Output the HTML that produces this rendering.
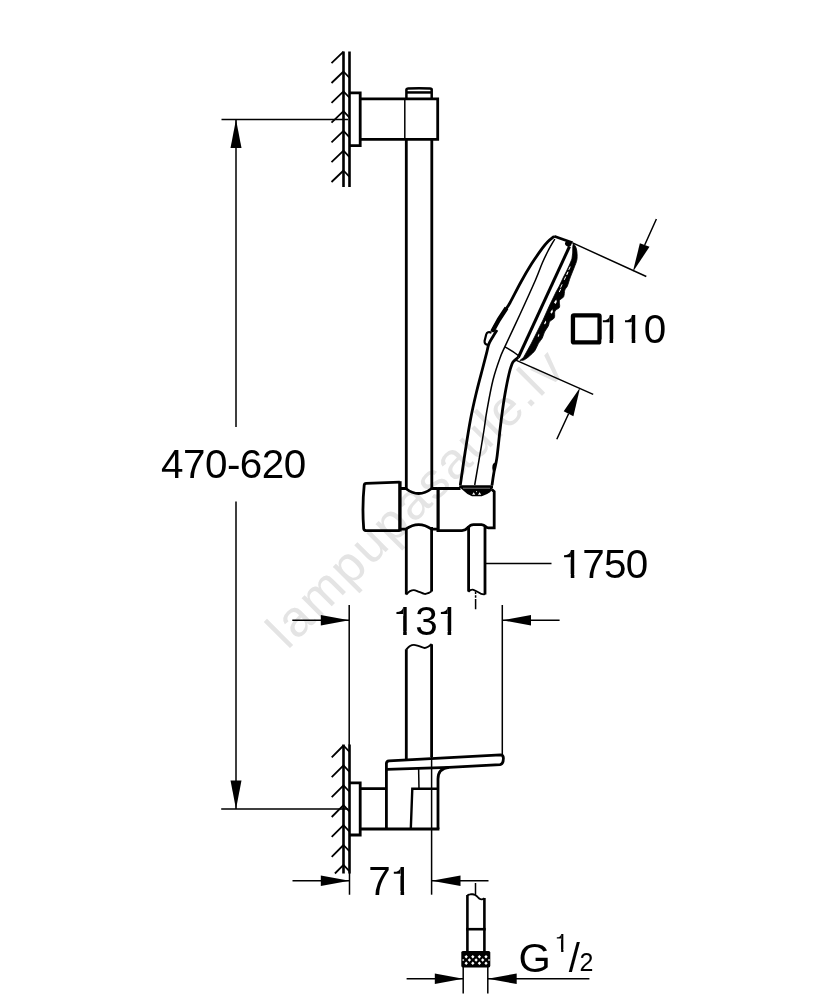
<!DOCTYPE html>
<html><head><meta charset="utf-8">
<style>
html,body{margin:0;padding:0;background:#fff;}
svg{display:block;will-change:transform;}
text{font-family:"Liberation Sans",sans-serif;fill:#000;font-kerning:none;font-variant-ligatures:none;}
.k{stroke:#000;stroke-width:2.8;fill:none;stroke-linecap:butt;stroke-linejoin:miter;}
.t{stroke:#000;stroke-width:1.5;fill:none;}
.a{fill:#000;stroke:none;}
</style></head>
<body>
<svg width="834" height="1000" viewBox="0 0 834 1000">
<rect width="834" height="1000" fill="#fff"/>
<!-- WATERMARK -->
<g id="wm"><text x="0" y="0" transform="translate(287.4,650.4) rotate(-45)" font-size="51" letter-spacing="1.9" style="fill:#e4e4e4">lampupasaule.lv</text></g>

<!-- TOP WALL -->
<g id="topwall">
<path class="k" style="stroke-width:2.6" d="M343.5 51.5V187M349.5 51.5V187"/>
<path class="k" style="stroke-width:1.8" d="M331.5 63.2L343.5 51.7M331.5 83L343.5 71.5M331.5 102.8L343.5 91.3M331.5 122.6L343.5 111.1M331.5 142.4L343.5 130.9M331.5 162.2L343.5 150.7M331.5 182L343.5 170.5"/>
<path class="t" style="stroke-width:1.7" d="M343.5 71.5L349.3 77.7M343.5 91.3L349.3 97.5M343.5 111.1L349.3 117.3M343.5 130.9L349.3 137.1M343.5 150.7L349.3 156.9M343.5 170.5L349.3 176.7"/>
</g>
<!-- TOP BRACKET -->
<g id="topbracket">
<path class="k" d="M349.5 92.9H360.2V145.6H349.5"/>
<path class="k" d="M360.2 98.8H437.7V139.4H360.2"/>
<path class="t" d="M404.8 98.8V139.4"/>
<path class="k" style="stroke-width:2.5" d="M406.4 98.8V89.6Q406.4 88.7 408 88.6Q419 87.9 430 88.6Q431.7 88.7 431.7 89.6V98.8"/>
<path class="k" style="stroke-width:2.5" d="M406.4 92.45H431.7"/>
</g>
<!-- RAIL -->
<g id="rail">
<path class="k" d="M406.3 139.4V489M431.8 139.4V489"/>
<path class="k" d="M406.3 529V594.5M431.6 527V591.4"/>
<path class="k" style="stroke-width:1.9" d="M406.3 594.5C406.9 594.0 408.7 591.9 410.0 591.2C411.3 590.5 412.4 590.0 413.9 590.1C415.4 590.2 417.2 591.2 419.0 591.8C420.8 592.4 423.0 593.7 424.6 593.9C426.2 594.1 427.3 593.5 428.5 593.0C429.7 592.5 431.1 591.5 431.6 591.2"/>
<path class="k" d="M406.3 649.3V760M431.6 644.2V757"/>
<path class="k" style="stroke-width:1.9" d="M406.3 649.5C406.9 648.9 408.7 646.8 410.0 646.0C411.3 645.2 412.4 644.9 413.9 644.9C415.4 644.9 417.2 645.7 419.0 646.2C420.8 646.7 423.0 648.0 424.6 648.0C426.2 648.0 427.3 647.2 428.5 646.5C429.7 645.8 431.1 644.4 431.6 644.0"/>
</g>
<!-- DIM 470-620 -->
<g id="dim470">
<path class="t" d="M221.5 119.5H348M236 119.5V427M236 501.5V809M221.2 809H348"/>
<path class="a" d="M236 119.5L230.5 148H241.5Z"/>
<path class="a" d="M236 809L230.5 780.6H241.5Z"/>
<text x="161" y="478.4" font-size="40.4" letter-spacing="-0.5">470-620</text>
</g>
<!-- SLIDER -->
<g id="slider">
<path class="k" d="M399.8 482.2L366.2 483.3Q364.4 483.4 364.2 485.2Q362 507 363.7 528.6Q363.9 530.4 365.8 530.5L399.8 530.6"/>
<path class="k" style="stroke-width:3.4" d="M399.9 481.2V531.6"/>
<path class="k" d="M399.8 488.5H405.7Q418.7 498.6 431.6 488.5H437.5"/>
<path class="k" d="M399.8 529.2H405.7Q418.7 520 431.6 529.2H437.5"/>
<path class="k" style="stroke-width:3.2" d="M438.1 487.1V532"/>
<path class="k" d="M438.2 488.5H460.5M491.6 489.2L494.2 491.7V529.3M438.2 530.6H462Q465.5 530.4 468 527.5T473.5 524.6H481.5Q484 524.8 485.5 526.4T488.5 527.9H495.6"/>
</g>
<!-- HOSE from slider -->
<g id="hose1">
<path class="k" d="M468.6 526V591.4M485 526V594.5"/>
<path class="k" style="stroke-width:1.8" d="M468.4 591.8Q471 589 473.5 589.8T480.6 593.6Q483 594.6 485.2 594.2"/>
<path class="t" stroke-dasharray="2.5 1.2 2.5 1.2 12 0" d="M475.6 591.5V609.2"/>
<path class="t" d="M485 563.6H551.5"/>
<text x="560.6" y="577.9" font-size="40.4" letter-spacing="-0.75">1750</text><g class="ft"><rect x="562.68" y="574.28" width="8.08" height="4.42" fill="#fff"/><rect x="574.33" y="574.28" width="7.77" height="4.42" fill="#fff"/><rect x="563.56" y="549.49" width="7.25" height="9.86" fill="#fff"/><path fill="#000" d="M570.86 550.11 C570.56 552.45 569.28 554.52 566.52 555.06 L564.05 555.21 L564.05 557.19 L570.86 557.19 Z"/></g>
</g>
<!-- DIM 131 -->
<g id="dim131">
<path class="t" d="M349.2 605V745M502.3 605V754"/>
<path class="t" d="M292.3 620.3H349M502.3 620.3H559.6"/>
<path class="a" d="M349.2 620.3L320.8 615V625.6Z"/>
<path class="a" d="M502.3 620.3L531 615V625.6Z"/>
<text x="393" y="634.6" font-size="40.4" letter-spacing="-0.25">131</text><g class="ft"><rect x="395.08" y="630.98" width="8.08" height="4.42" fill="#fff"/><rect x="406.73" y="630.98" width="7.77" height="4.42" fill="#fff"/><rect x="395.96" y="606.19" width="7.25" height="9.86" fill="#fff"/><path fill="#000" d="M403.26 606.81 C402.96 609.15 401.68 611.22 398.92 611.76 L396.45 611.91 L396.45 613.89 L403.26 613.89 Z"/><rect x="439.51" y="630.98" width="8.08" height="4.42" fill="#fff"/><rect x="451.17" y="630.98" width="7.77" height="4.42" fill="#fff"/><rect x="440.40" y="606.19" width="7.25" height="9.86" fill="#fff"/><path fill="#000" d="M447.69 606.81 C447.40 609.15 446.12 611.22 443.36 611.76 L440.89 611.91 L440.89 613.89 L447.69 613.89 Z"/></g>
</g>
<!-- HANDSHOWER -->
<g id="hand">
<path class="k" d="M572.6 242.8L554.2 236.3"/>
<path class="k" d="M554.2 236.3C553.2 237.2 550.0 239.5 548.0 241.5C546.0 243.5 545.1 244.5 542.4 248.2C539.7 251.9 535.2 258.1 531.6 263.8C528.0 269.5 524.4 275.7 520.8 282.2C517.2 288.7 512.5 298.2 510.0 302.7C507.5 307.2 507.9 306.1 505.9 309.1C503.9 312.2 500.3 317.2 498.0 321.0C495.7 324.8 492.9 330.0 491.9 331.8"/>
<path class="k" style="stroke-width:4.4" d="M506.5 308L499 319.5L492.3 331.5"/>
<path class="k" d="M497.0 330.0C496.1 331.5 492.9 336.6 491.5 339.0C490.1 341.4 489.4 342.3 488.6 344.7C487.8 347.1 487.6 349.2 486.5 353.4C485.4 357.6 483.9 363.6 482.2 370.0C480.5 376.4 478.5 383.7 476.5 392.0C474.5 400.3 472.3 409.8 470.4 420.0C468.5 430.2 466.7 442.1 465.0 453.0C463.3 463.9 461.1 479.8 460.3 485.2"/>
<path class="t" d="M554.8 239.0C553.7 241.0 550.1 247.0 548.0 251.0C545.9 255.0 544.5 258.0 542.4 262.8C540.3 267.6 539.3 271.3 535.5 280.0C531.7 288.7 524.8 303.9 519.7 315.0C514.6 326.1 508.1 339.7 504.8 346.9C501.5 354.1 502.0 352.5 500.0 358.0C498.0 363.5 495.2 371.3 493.0 380.0C490.8 388.7 488.5 401.7 487.0 410.0C485.5 418.3 485.3 421.7 484.0 430.0C482.7 438.3 480.6 450.8 479.0 460.0C477.4 469.2 475.4 480.8 474.7 485.0"/>
<path class="t" d="M504.8 346.9Q512 350.5 518.3 355.5"/>
<path class="k" style="stroke-width:3" d="M569.5 246.5L518.3 357.5"/>
<ellipse cx="568.2" cy="243.8" rx="3.3" ry="2.6" transform="rotate(25 568.2 243.8)" fill="#000"/>
<path d="M573.4 243.4C573.9 244.3 575.8 246.2 576.4 248.8C577.0 251.4 577.4 255.8 577.0 259.0C576.6 262.2 575.1 265.0 574.0 268.0C572.9 271.0 571.5 274.0 570.4 277.0C569.3 280.0 568.3 283.8 567.4 286.0C566.5 288.2 565.4 288.2 564.8 290.0C564.2 291.8 564.5 295.1 563.6 296.8C562.7 298.6 560.2 298.8 559.5 300.5C558.8 302.2 560.2 305.6 559.5 307.3C558.8 309.1 555.9 309.2 555.0 311.0C554.1 312.8 555.2 316.1 554.3 317.8C553.4 319.6 550.8 320.1 549.8 321.5C548.8 322.9 549.2 324.2 548.3 326.0C547.4 327.8 545.5 330.0 544.5 332.0C543.5 334.0 543.3 336.1 542.3 338.0C541.3 339.9 539.8 341.2 538.5 343.3C537.2 345.4 536.3 348.7 534.8 350.8C533.3 352.9 531.2 354.5 529.5 356.0C527.8 357.5 525.9 359.1 524.3 359.8C522.7 360.6 520.5 360.4 519.8 360.5 L523.5 357.5 L531.0 344.0 L537.0 332.0 L543.0 320.0 L549.0 306.5 L556.0 292.0 L559.3 286 L563.5 277 L566.6 271 L569.4 265 L571.9 259 L572.7 253 L572.8 246.5Z" fill="#000" stroke="#000" stroke-width="0.8" stroke-linejoin="round"/>
<g fill="#fff"><path d="M554 302.5l2.2-3l0.6 2.2l-1.2 2.4zM550.3 312.2l2-3l0.6 2.2l-1.2 2.4zM544 323.6l1.8-3l0.4 1.6l-1.2 2.4zM537.6 336.2l1.4-2.6l0.3 1.4l-0.9 2zM566.5 274l1.2-2.6l0.3 1.2l-0.8 2z"/></g><path d="M568.0 272.1L566.8 274.7M565.6 276.9L564.4 279.5M562.0 284.7L560.8 287.3M560.6 289.1L559.4 291.7M570.1 266.9L568.9 269.5" stroke="#fff" stroke-width="1" fill="none" stroke-linecap="round"/>
<path class="k" d="M518.3 357.3C517.6 357.9 515.4 359.5 514.5 360.5C513.6 361.5 512.9 361.8 512.0 364.0C511.1 366.2 510.2 369.0 509.0 374.0C507.8 379.0 506.2 387.3 505.0 394.0C503.8 400.7 502.8 408.0 502.0 414.0C501.2 420.0 500.9 422.6 500.0 430.0C499.1 437.4 497.8 451.4 496.8 458.4C495.8 465.4 494.8 467.5 494.0 472.0C493.2 476.5 492.3 483.0 492.0 485.2"/>
<path class="a" d="M495.3 462.5Q492.3 463 492.3 467.5Q492.3 471.5 494.3 472.5Z"/>
<path class="k" style="stroke-width:2.2" d="M491.5 332.6Q487.3 331 486.2 334.5L484.6 341Q484.3 344.6 488 344.8"/>
<path class="k" style="stroke-width:2.7" d="M459.2 486.6H493"/>
<path class="a" d="M460.5 488L463 490.2Q467.5 494.8 472 496.3H481.8Q487 494.6 490.4 492L492.4 488Z"/><path d="M472.1 494.7l1.6-2.4l1.6 2.4zM478 494.7l1.6-2.4l1.6 2.4z" fill="#fff"/><circle cx="476.6" cy="491.6" r="0.55" fill="#fff"/><path d="M463 488.25H490" stroke="#fff" stroke-width="0.45"/>
</g>
<!-- DIM 110 -->
<g id="dim110">
<path class="t" d="M572.6 242.9L646.3 276.5M515.8 360.1L593.2 394.4"/>
<path class="t" d="M656.4 219L644.7 245M568.6 413.7L556.8 439.3"/>
<path class="a" d="M632.8 271.9L639.9 243.2L649.5 246.8Z"/>
<path class="a" d="M580.1 387.4L563.7 411.2L573.4 416.3Z"/>
<rect x="572.95" y="315.35" width="26.6" height="27.1" rx="1" fill="none" stroke="#000" stroke-width="4.3"/>
<text x="599.4" y="343" font-size="40.4" letter-spacing="-0.3">110</text><g class="ft"><rect x="601.48" y="339.38" width="8.08" height="4.42" fill="#fff"/><rect x="613.13" y="339.38" width="7.77" height="4.42" fill="#fff"/><rect x="602.36" y="314.59" width="7.25" height="9.86" fill="#fff"/><path fill="#000" d="M609.66 315.21 C609.36 317.55 608.08 319.62 605.32 320.16 L602.85 320.31 L602.85 322.29 L609.66 322.29 Z"/><rect x="623.65" y="339.38" width="8.08" height="4.42" fill="#fff"/><rect x="635.30" y="339.38" width="7.77" height="4.42" fill="#fff"/><rect x="624.53" y="314.59" width="7.25" height="9.86" fill="#fff"/><path fill="#000" d="M631.83 315.21 C631.53 317.55 630.25 319.62 627.49 320.16 L625.02 320.31 L625.02 322.29 L631.83 322.29 Z"/></g>
</g>
<!-- BOTTOM WALL -->
<g id="botwall">
<path class="k" style="stroke-width:2.6" d="M343.5 744.5V873.5M349.5 744.5V873.5"/>
<path class="k" style="stroke-width:1.8" d="M331.7 757.3L343.5 745.5M331.7 777.2L343.5 765.4M331.7 797.1L343.5 785.3M331.7 817L343.5 805.2M331.7 836.9L343.5 825.1M331.7 856.8L343.5 845M334.9 873.5L343.5 864.9"/>
<path class="t" style="stroke-width:1.7" d="M343.5 745.5L349.3 751.7M343.5 765.4L349.3 771.6M343.5 785.3L349.3 791.5M343.5 805.2L349.3 811.4M343.5 825.1L349.3 831.3M343.5 845.0L349.3 851.2M343.5 864.9L349.3 871.1"/>
</g>
<!-- BOTTOM BRACKET -->
<g id="botbracket">
<path class="k" d="M349.5 782.9H360.2V835H349.5"/>
<path class="k" d="M360.2 788.6H386.4M360.2 829H439.4"/>
<path class="k" d="M386.4 829V763.5Q386.4 761 389 760.8L500.5 754.8Q503.4 754.8 503.4 758.3Q503.4 764 500 764.6L449 767.4Q438 768.4 438 779V829"/>
<path class="k" d="M386.8 769.3L449 767.4"/>
<path class="k" style="stroke-width:2.4" d="M410.8 829L412.3 788.7H438"/>
<path class="t" d="M418.6 767.7L419 788.7"/>
<path class="t" style="stroke-width:1.5" d="M431.6 756V894.7"/>
</g>
<!-- DIM 71 -->
<g id="dim71">
<path class="t" d="M349.5 873V894.7M292.5 880.8H349.5M431.6 880.8H488.5"/>
<path class="a" d="M349.5 880.8L320.8 875.5V886.1Z"/>
<path class="a" d="M431.6 880.8L460.5 875.5V886.1Z"/>
<text x="368.2" y="894.5" font-size="40.4" letter-spacing="-0.3">71</text><g class="ft"><rect x="392.45" y="890.88" width="8.08" height="4.42" fill="#fff"/><rect x="404.10" y="890.88" width="7.77" height="4.42" fill="#fff"/><rect x="393.33" y="866.09" width="7.25" height="9.86" fill="#fff"/><path fill="#000" d="M400.63 866.71 C400.33 869.05 399.05 871.12 396.29 871.66 L393.82 871.81 L393.82 873.79 L400.63 873.79 Z"/></g>
</g>
<!-- HOSE END -->
<g id="hoseend">
<path class="t" d="M475.5 883V895"/>
<path class="k" style="stroke-width:2.6" d="M467.4 895V951.5M484.4 898V951.5"/>
<path class="k" style="stroke-width:1.9" d="M467.4 895.2C467.8 895.1 469.2 894.5 470.0 894.4C470.8 894.2 471.6 894.2 472.4 894.3C473.2 894.4 474.2 894.6 475.0 895.0C475.8 895.4 476.4 896.0 477.2 896.6C477.9 897.2 478.7 898.3 479.5 898.8C480.3 899.3 481.0 899.5 481.8 899.4C482.6 899.3 484.0 898.6 484.4 898.4"/>
<path class="k" style="stroke-width:2.6" d="M466.1 929.2H485.7"/>
<rect x="461.3" y="951" width="29" height="16.4" rx="1.6" fill="#000"/>
<path fill="#fff" d="M466.2 955.1 l1.7 1.7 l-1.7 1.7 l-1.7 -1.7zM472.8 955.1 l1.7 1.7 l-1.7 1.7 l-1.7 -1.7zM479.4 955.1 l1.7 1.7 l-1.7 1.7 l-1.7 -1.7zM486.0 955.1 l1.7 1.7 l-1.7 1.7 l-1.7 -1.7zM469.4 958.3 l1.7 1.7 l-1.7 1.7 l-1.7 -1.7zM476.1 958.3 l1.7 1.7 l-1.7 1.7 l-1.7 -1.7zM482.7 958.3 l1.7 1.7 l-1.7 1.7 l-1.7 -1.7zM466.2 961.5 l1.7 1.7 l-1.7 1.7 l-1.7 -1.7zM472.8 961.5 l1.7 1.7 l-1.7 1.7 l-1.7 -1.7zM479.4 961.5 l1.7 1.7 l-1.7 1.7 l-1.7 -1.7zM486.0 961.5 l1.7 1.7 l-1.7 1.7 l-1.7 -1.7zM463.2 958.9 l1.1 1.1 l-1.1 1.1 l-1.1 -1.1zM489.0 958.9 l1.1 1.1 l-1.1 1.1 l-1.1 -1.1z"/>
<path class="t" d="M463.2 967V993.4M487.8 967V993.4M406.6 978.8H463.2M487.8 978.8H589.4"/>
<path class="a" d="M463.2 978.8L434.8 973.5V984.1Z"/>
<path class="a" d="M487.8 978.8L516.7 973.5V984.1Z"/>
<text x="518.5" y="971.6" font-size="41.5">G</text>
<text x="554.6" y="951.9" font-size="26">1</text><g class="ft"><rect x="555.58" y="949.36" width="5.56" height="3.34" fill="#fff"/><rect x="563.44" y="949.36" width="5.35" height="3.34" fill="#fff"/><rect x="556.50" y="933.62" width="4.68" height="6.35" fill="#fff"/><path fill="#000" d="M561.20 934.01 C561.01 935.52 560.19 936.86 558.41 937.20 L556.82 937.30 L556.82 938.57 L561.20 938.57 Z"/></g>
<text x="568.8" y="972" font-size="40">/</text>
<text x="579.6" y="971.3" font-size="25">2</text>
</g>
</svg>
</body></html>
